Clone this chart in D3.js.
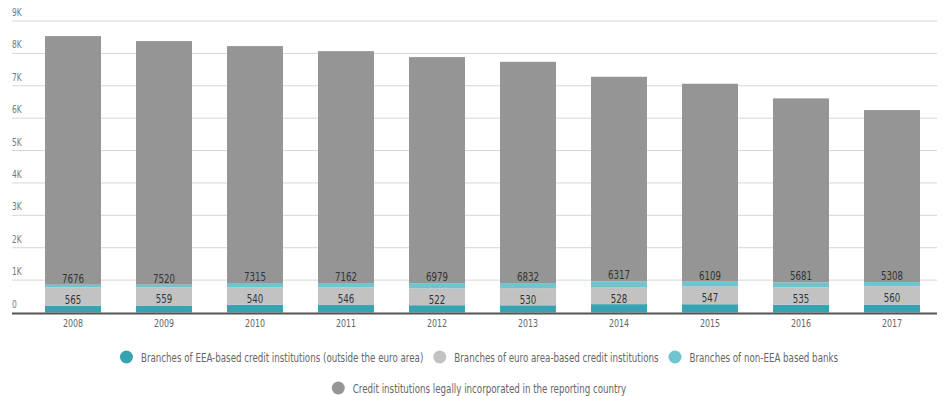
<!DOCTYPE html>
<html>
<head>
<meta charset="utf-8">
<script src="https://cdn.jsdelivr.net/npm/d3@7"></script>
<style>
  body { margin: 0; background: #fff; }
  svg text { font-family: "DejaVu Sans Condensed", "Liberation Sans Narrow", sans-serif; }
</style>
</head>
<body>
<svg id="chart"></svg>
<script>
const width = 944;
const height = 396;

// data
const years = ["2008","2009","2010","2011","2012","2013","2014","2015","2016","2017"];
const eeaBranches = [210, 215, 240, 230, 225, 222, 258, 255, 240, 245];
const euroBranches = [565, 559, 540, 546, 522, 530, 528, 547, 535, 560];
const nonEeaBranches = [83, 86, 130, 132, 160, 156, 175, 151, 155, 137];
const creditInst = [7676, 7520, 7315, 7162, 6979, 6832, 6317, 6109, 5681, 5308];
const yTicks = [0, 1000, 2000, 3000, 4000, 5000, 6000, 7000, 8000, 9000];

const seriesNames = [
  "Branches of EEA-based credit institutions (outside the euro area)",
  "Branches of euro area-based credit institutions",
  "Branches of non-EEA based banks",
  "Credit institutions legally incorporated in the reporting country"
];
const colors = ["#35a3b1", "#c2c2c2", "#6fc5ce", "#959595"];
const squeeze = 0.8; // the original uses a condensed face

var svg = d3.select("#chart").attr("width", width).attr("height", height);

// condensed-looking text placed at (x, y)
function place(sel, fx, fy) {
  sel.attr("transform", (d, i) => "translate(" + fx(d, i) + "," + fy(d, i) + ") scale(" + squeeze + ",1)");
}

var xScale = d3.scaleBand().domain(years).range([27.5, 937.5])
  .paddingInner(0.385).paddingOuter(0.1925);
var yScale = d3.scaleLinear().domain([0, 9000]).range([312.5, 21]);

// grid + y labels
var grid = svg.append("g");
grid.selectAll("line")
  .data(yTicks.filter(d => d > 0))
  .enter()
  .append("line")
  .attr("x1", 12).attr("x2", 937)
  .attr("y1", d => yScale(d)).attr("y2", d => yScale(d))
  .attr("stroke", "#d6d6d6").attr("stroke-width", 1);

grid.selectAll("text")
  .data(yTicks)
  .enter()
  .append("text")
  .attr("font-size", 10.5)
  .attr("fill", "#777")
  .text(d => d == 0 ? "0" : (d / 1000) + "K")
  .call(place, d => 12, d => yScale(d) - 5);

// stacked bars
var rows = years.map((y, i) => ({
  year: y, eea: eeaBranches[i], euro: euroBranches[i], noneea: nonEeaBranches[i], ci: creditInst[i]
}));
var keys = ["eea", "euro", "noneea", "ci"];
var stacked = d3.stack().keys(keys)(rows);

svg.append("g")
  .selectAll("g")
  .data(stacked)
  .enter()
  .append("g")
  .attr("fill", (d, i) => colors[i])
  .selectAll("rect")
  .data(d => d)
  .enter()
  .append("rect")
  .attr("x", d => xScale(d.data.year))
  .attr("width", xScale.bandwidth())
  .attr("y", d => yScale(d[1]))
  .attr("height", d => yScale(d[0]) - yScale(d[1]));

// baseline
svg.append("line")
  .attr("x1", 12).attr("x2", 937)
  .attr("y1", yScale(0) + 1).attr("y2", yScale(0) + 1)
  .attr("stroke", "#555").attr("stroke-width", 2);

// value labels
var labels = svg.append("g").attr("font-size", 12).attr("fill", "#333").attr("text-anchor", "middle");
var mid = d => xScale(d.data.year) + xScale.bandwidth() / 2;
labels.selectAll(".lbl-euro")
  .data(stacked[1])
  .enter()
  .append("text")
  .text(d => d.data.euro)
  .call(place, mid, d => (yScale(d[0]) + yScale(d[1])) / 2 + 7);
labels.selectAll(".lbl-ci")
  .data(stacked[3])
  .enter()
  .append("text")
  .text(d => d.data.ci)
  .call(place, mid, d => yScale(d[0]) - 2);

// x labels
svg.append("g")
  .selectAll("text")
  .data(years)
  .enter()
  .append("text")
  .attr("text-anchor", "middle")
  .attr("font-size", 11)
  .attr("fill", "#666")
  .text(d => d)
  .call(place, d => xScale(d) + xScale.bandwidth() / 2, d => 327);

// legend, two centred rows
var legendRows = [[0, 1, 2], [3]];
var legendY = [357, 388];
legendRows.forEach((row, r) => {
  var g = svg.append("g");
  var x = 0;
  row.forEach(si => {
    var item = g.append("g").attr("transform", "translate(" + x + ",0)");
    item.append("circle").attr("cx", 6.5).attr("cy", 0).attr("r", 6.5).attr("fill", colors[si]);
    var t = item.append("text")
      .attr("font-size", 12.1).attr("fill", "#666")
      .text(seriesNames[si])
      .attr("transform", "translate(21,4.5) scale(" + squeeze + ",1)");
    x += 21 + t.node().getComputedTextLength() * squeeze + 10;
  });
  var total = x - 10;
  g.attr("transform", "translate(" + (479 - total / 2) + "," + legendY[r] + ")");
});
</script>
</body>
</html>
